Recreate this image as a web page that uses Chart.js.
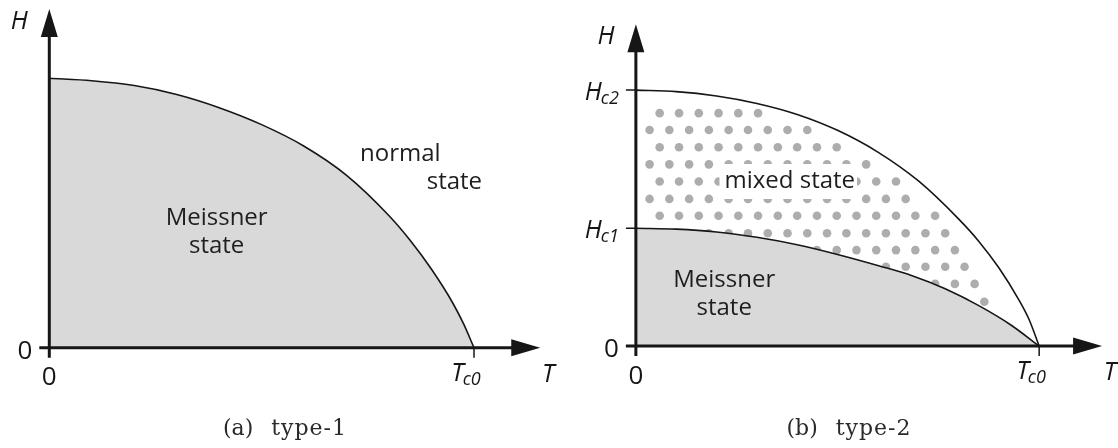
<!DOCTYPE html>
<html>
<head>
<meta charset="utf-8">
<title>Superconductor phase diagrams</title>
<script src="https://cdn.jsdelivr.net/npm/chart.js@4.4.1/dist/chart.umd.min.js"></script>
<style>
  html, body { margin: 0; padding: 0; background: #ffffff; }
  #wrap { position: relative; width: 1118px; height: 448px; overflow: hidden; }
  .panel { position: absolute; top: 0; height: 448px; }
  canvas { display: block; }
</style>
</head>
<body>
<div id="wrap">
  <div class="panel" style="left:0;width:560px"><canvas id="type1" width="560" height="448"></canvas></div>
  <div class="panel" style="left:560px;width:558px"><canvas id="type2" width="558" height="448"></canvas></div>
</div>
<script>
// ---- Type-1: critical field Hc(T); T in units of Tc0, H in units of Hc(0) ----
const type1T = [0, 0.10, 0.20, 0.30, 0.40, 0.50, 0.60, 0.70, 0.80, 0.85, 0.90, 0.95, 0.975, 1];
const type1H = [1, 0.991, 0.973, 0.940, 0.891, 0.828, 0.748, 0.640, 0.490, 0.398, 0.291, 0.166, 0.090, 0];

// ---- Type-2: upper and lower critical fields; H in units of Hc2(0) ----
const hc2T = [0, 0.10, 0.20, 0.30, 0.40, 0.50, 0.60, 0.70, 0.80, 0.85, 0.90, 0.95, 0.975, 1];
const hc2H = [1, 0.994, 0.977, 0.948, 0.905, 0.843, 0.758, 0.646, 0.497, 0.410, 0.306, 0.180, 0.104, 0];
const hc1T = [0, 0.10, 0.20, 0.30, 0.40, 0.50, 0.604, 0.685, 0.767, 0.848, 0.929, 1];
const hc1H = [0.4605, 0.457, 0.446, 0.425, 0.396, 0.358, 0.313, 0.275, 0.224, 0.160, 0.0835, 0];

// ---- Vortex dots of the mixed state: two staggered column sets, one H per row ----
const dotColumnsA = [0.059, 0.107, 0.156, 0.205, 0.254, 0.303, 0.352, 0.400, 0.449, 0.498, 0.547, 0.596, 0.645, 0.693, 0.742, 0.791, 0.840, 0.889];
const dotColumnsB = [0.034, 0.083, 0.132, 0.181, 0.230, 0.278, 0.327, 0.376, 0.425, 0.474, 0.522, 0.571, 0.620, 0.669, 0.718, 0.767, 0.815, 0.864];
const dotRowH = [0.910, 0.844, 0.777, 0.710, 0.643, 0.575, 0.509, 0.441, 0.375, 0.310, 0.243, 0.173];
const dotRowColumns = ['A', 'B', 'A', 'B', 'A', 'B', 'A', 'B', 'A', 'B', 'A', 'B'];
const dotRowCount = [6, 9, 10, 12, 13, 14, 15, 16, 16, 17, 17, 18];

// ---- Axis ticks ----
const type1XTicks = [0, 1];
const type1XTickLabels = ['0', 'T_c0'];
const type1YTicks = [0];
const type1YTickLabels = ['0'];
const type2XTicks = [0, 1];
const type2XTickLabels = ['0', 'T_c0'];
const type2YTicks = [0, 0.4605, 1];
const type2YTickLabels = ['0', 'H_c1', 'H_c2'];

// ---- Styling ----
const INK = '#161616';
const FILL = '#d9d9d9';
const DOT = '#adadad';
const SANS = '"Open Sans", "Noto Sans", sans-serif';
const SERIF = '"DejaVu Serif", "Liberation Serif", serif';
const AXIS_END = { t: 1.156, h: 1.257 };
const ITALIC_MAIN = 'italic 25px ' + SANS;
const ITALIC_SUB = 'italic 18px ' + SANS;

function pts(xs, ys) { return xs.map((x, i) => ({ x: x, y: ys[i] })); }

function mixedStateDots() {
  const out = [];
  dotRowH.forEach((h, r) => {
    const cols = dotRowColumns[r] === 'A' ? dotColumnsA : dotColumnsB;
    cols.slice(0, dotRowCount[r]).forEach(t => out.push({ x: t, y: h }));
  });
  return out;
}

function curve(data, fill, order) {
  return {
    data: data, showLine: true, fill: fill ? 'origin' : false,
    backgroundColor: FILL, borderColor: INK, borderWidth: 1.6,
    pointRadius: 0, pointHoverRadius: 0, cubicInterpolationMode: 'monotone',
    order: order
  };
}

// draws "H" with an italic subscript such as "c2"
function drawSubLabel(ctx, text, x, baseline, align) {
  const parts = text.split('_');
  const main = parts[0], sub = parts[1] || '';
  ctx.font = ITALIC_MAIN;
  const wm = ctx.measureText(main).width;
  ctx.font = ITALIC_SUB;
  const ws = sub ? ctx.measureText(sub).width : 0;
  const total = wm + ws - (sub ? 1 : 0);
  let x0 = x;
  if (align === 'right') x0 = x - total;
  else if (align === 'center') x0 = x - total / 2;
  ctx.textAlign = 'left';
  ctx.textBaseline = 'alphabetic';
  ctx.font = ITALIC_MAIN;
  ctx.fillText(main, x0, baseline);
  if (sub) {
    ctx.font = ITALIC_SUB;
    ctx.fillText(sub, x0 + wm - 1, baseline + 4);
  }
}

function drawTickLabel(ctx, text, x, baseline, align) {
  if (text.indexOf('_') >= 0) { drawSubLabel(ctx, text, x, baseline, align); return; }
  ctx.font = '26px ' + SANS;
  ctx.textAlign = align;
  ctx.textBaseline = 'alphabetic';
  ctx.fillText(text, x, baseline);
}

const phaseAxes = {
  id: 'phaseAxes',
  afterDatasetsDraw(chart) {
    const cfg = chart.config.options.phase;
    const ctx = chart.ctx;
    const xs = chart.scales.x, ys = chart.scales.y;
    const ox = xs.getPixelForValue(0), oy = ys.getPixelForValue(0);
    const tipX = xs.getPixelForValue(AXIS_END.t), tipY = ys.getPixelForValue(AXIS_END.h);
    ctx.save();

    // region labels
    ctx.fillStyle = '#1e1e1e';
    ctx.font = '24px ' + SANS;
    ctx.textBaseline = 'alphabetic';
    cfg.regionLabels.forEach(lab => {
      const px = xs.getPixelForValue(lab.t), py = ys.getPixelForValue(lab.h);
      ctx.textAlign = lab.align;
      lab.lines.forEach((line, i) => {
        const y = py + i * 28.3;
        if (lab.knockout) {
          const w = ctx.measureText(line).width;
          const left = lab.align === 'center' ? px - w / 2 : px;
          ctx.fillStyle = '#ffffff';
          ctx.fillRect(left - 5, y - 24, w + 7, 35);
          ctx.fillStyle = '#1e1e1e';
        }
        ctx.fillText(line, px, y);
      });
    });

    // axes with arrow heads
    ctx.strokeStyle = INK;
    ctx.fillStyle = INK;
    ctx.lineWidth = 3;
    ctx.beginPath();
    ctx.moveTo(ox - 10, oy); ctx.lineTo(tipX - 27, oy);
    ctx.moveTo(ox, oy + 10); ctx.lineTo(ox, tipY + 26);
    ctx.stroke();
    ctx.beginPath();
    ctx.moveTo(tipX, oy); ctx.lineTo(tipX - 29, oy - 8.5); ctx.lineTo(tipX - 29, oy + 8.5); ctx.closePath();
    ctx.moveTo(ox, tipY); ctx.lineTo(ox - 8.5, tipY + 28); ctx.lineTo(ox + 8.5, tipY + 28); ctx.closePath();
    ctx.fill();

    // tick marks away from the origin
    ctx.lineWidth = 1.5;
    ctx.beginPath();
    cfg.xTicks.forEach(v => {
      if (v === 0) return;
      const x = xs.getPixelForValue(v);
      ctx.moveTo(x, oy); ctx.lineTo(x, oy + 10);
    });
    cfg.yTicks.forEach(v => {
      if (v === 0) return;
      const y = ys.getPixelForValue(v);
      ctx.moveTo(ox - 10, y); ctx.lineTo(ox, y);
    });
    ctx.stroke();

    // tick labels
    ctx.fillStyle = INK;
    cfg.xTicks.forEach((v, i) => {
      const x = xs.getPixelForValue(v);
      const text = cfg.xTickLabels[i];
      if (text.indexOf('_') >= 0) drawTickLabel(ctx, text, x - 8, oy + 33, 'center');
      else drawTickLabel(ctx, text, x, oy + 37.5, 'center');
    });
    cfg.yTicks.forEach((v, i) => {
      const y = ys.getPixelForValue(v);
      const text = cfg.yTickLabels[i];
      if (text.indexOf('_') >= 0) drawTickLabel(ctx, text, ox - 17, y + 10, 'right');
      else drawTickLabel(ctx, text, ox - 17, y + 11, 'right');
    });

    // axis names
    drawSubLabel(ctx, 'H', ox - 30, tipY + 20, 'center');
    drawSubLabel(ctx, 'T', tipX + 8, oy + 34, 'center');

    // caption
    ctx.fillStyle = '#2a2a2a';
    ctx.font = '22px ' + SERIF;
    ctx.textAlign = 'left';
    const w1 = ctx.measureText(cfg.caption[0]).width;
    ctx.letterSpacing = '1px';
    const w2 = ctx.measureText(cfg.caption[1]).width;
    const gap = 18;
    const cx0 = cfg.captionCenter - (w1 + gap + w2) / 2;
    ctx.letterSpacing = '0px';
    ctx.fillText(cfg.caption[0], cx0, 435);
    ctx.letterSpacing = '1px';
    ctx.fillText(cfg.caption[1], cx0 + w1 + gap, 435);
    ctx.letterSpacing = '0px';

    ctx.restore();
  }
};

function buildPanel(canvasId, width, origin, unit, datasets, phase) {
  const height = 448;
  return new Chart(document.getElementById(canvasId), {
    type: 'scatter',
    data: { datasets: datasets },
    options: {
      responsive: false,
      animation: false,
      devicePixelRatio: 1,
      layout: { padding: 0 },
      events: [],
      scales: {
        x: { type: 'linear', display: false, min: -origin.x / unit.x, max: (width - origin.x) / unit.x },
        y: { type: 'linear', display: false, min: -(height - origin.y) / unit.y, max: origin.y / unit.y }
      },
      plugins: { legend: { display: false }, tooltip: { enabled: false } },
      phase: phase
    },
    plugins: [phaseAxes]
  });
}

buildPanel('type1', 560, { x: 49.3, y: 347.7 }, { x: 424.7, y: 269.4 },
  [curve(pts(type1T, type1H), true, 0)],
  {
    xTicks: type1XTicks, xTickLabels: type1XTickLabels,
    yTicks: type1YTicks, yTickLabels: type1YTickLabels,
    regionLabels: [
      { lines: ['Meissner', 'state'], t: 0.394, h: 0.455, align: 'center' },
      { lines: ['normal'], t: 0.7316, h: 0.693, align: 'left' },
      { lines: ['state'], t: 0.8886, h: 0.588, align: 'left' }
    ],
    caption: ['(a)', 'type-1'], captionCenter: 285
  });

buildPanel('type2', 558, { x: 72.7, y: 348.5 }, { x: 409.6, y: 261 },
  [
    curve(pts(hc1T, hc1H), true, 0),
    {
      data: mixedStateDots(), showLine: false, pointRadius: 4.3, pointHoverRadius: 4.3,
      pointBackgroundColor: DOT, pointBorderWidth: 0, order: 1
    },
    curve(pts(hc2T, hc2H), false, 2)
  ],
  {
    xTicks: type2XTicks, xTickLabels: type2XTickLabels,
    yTicks: type2YTicks, yTickLabels: type2YTickLabels,
    regionLabels: [
      { lines: ['Meissner', 'state'], t: 0.219, h: 0.2307, align: 'center' },
      { lines: ['mixed state'], t: 0.3816, h: 0.6176, align: 'center', knockout: true }
    ],
    caption: ['(b)', 'type-2'], captionCenter: 289
  });
</script>
</body>
</html>
